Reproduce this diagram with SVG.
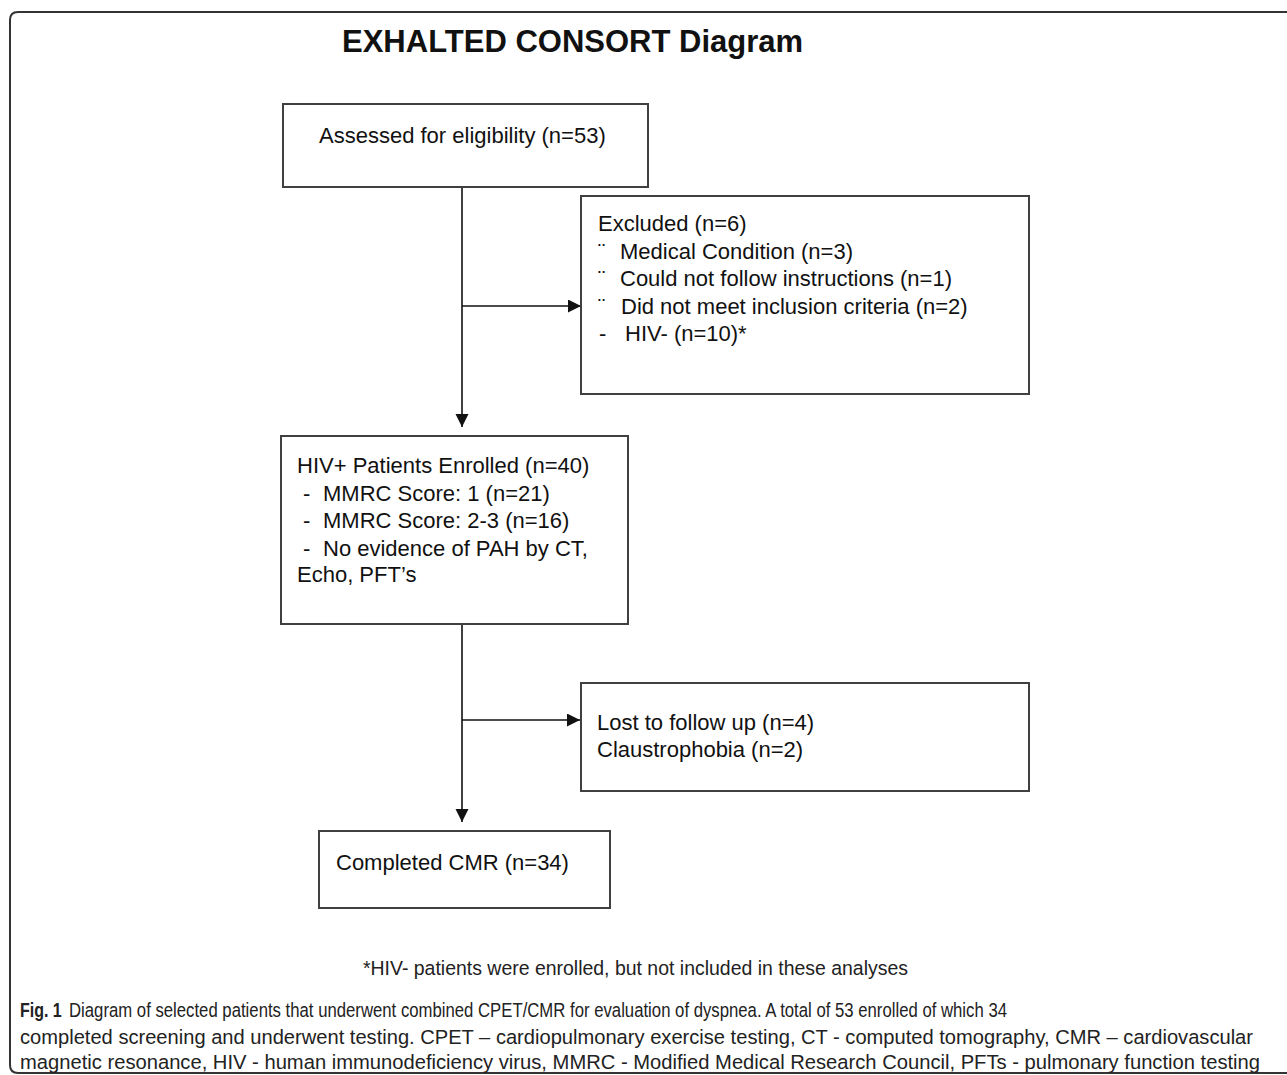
<svg xmlns="http://www.w3.org/2000/svg" width="1287" height="1075" viewBox="0 0 1287 1075">
<style>
.box{fill:#fff;stroke:#404040;stroke-width:2}
.t{font-family:"Liberation Sans",Arial,sans-serif;font-size:22px;fill:#111}
.title{font-family:"Liberation Sans",Arial,sans-serif;font-size:31px;font-weight:bold;fill:#111}
.cap{font-family:"Liberation Sans",Arial,sans-serif;font-size:20.5px;fill:#222}
.conn{stroke:#111;stroke-width:1.6;fill:none}
</style>
<defs>
<marker id="ah" markerWidth="14" markerHeight="14" refX="13" refY="6.5" orient="auto" markerUnits="userSpaceOnUse">
<path d="M0,0 L13,6.5 L0,13 Z" fill="#111"/>
</marker>
</defs>
<rect x="0" y="0" width="1287" height="1075" fill="#fff"/>
<path d="M1287,12 H18 Q10,12 10,20 V1065 Q10,1073 18,1073 H1287" fill="none" stroke="#333" stroke-width="2"/>
<text class="title" x="342" y="52">EXHALTED CONSORT Diagram</text>

<g id="connectors">
<line class="conn" x1="462" y1="187" x2="462" y2="427" marker-end="url(#ah)"/>
<line class="conn" x1="462" y1="306" x2="581" y2="306" marker-end="url(#ah)"/>
<line class="conn" x1="462" y1="625" x2="462" y2="822" marker-end="url(#ah)"/>
<line class="conn" x1="462" y1="720" x2="580" y2="720" marker-end="url(#ah)"/>
</g>

<g id="assessed">
<rect class="box" x="283" y="104" width="365" height="83"/>
<text class="t" x="319" y="143">Assessed for eligibility (n=53)</text>
</g>

<g id="excluded">
<rect class="box" x="581" y="196" width="448" height="198"/>
<text class="t" x="598" y="231">Excluded (n=6)</text>
<text class="t" x="598" y="259">¨</text><text class="t" x="620" y="259">Medical Condition (n=3)</text>
<text class="t" x="598" y="286">¨</text><text class="t" x="620" y="286">Could not follow instructions (n=1)</text>
<text class="t" x="598" y="314">¨</text><text class="t" x="621" y="314">Did not meet inclusion criteria (n=2)</text>
<text class="t" x="599" y="341">-</text><text class="t" x="625" y="341">HIV- (n=10)*</text>
</g>

<g id="enrolled">
<rect class="box" x="281" y="436" width="347" height="188"/>
<text class="t" x="297" y="473">HIV+ Patients Enrolled (n=40)</text>
<text class="t" x="303" y="501">-</text><text class="t" x="323" y="501">MMRC Score: 1 (n=21)</text>
<text class="t" x="303" y="528">-</text><text class="t" x="323" y="528">MMRC Score: 2-3 (n=16)</text>
<text class="t" x="303" y="556">-</text><text class="t" x="323" y="556">No evidence of PAH by CT,</text>
<text class="t" x="297" y="582">Echo, PFT’s</text>
</g>

<g id="lost">
<rect class="box" x="581" y="683" width="448" height="108"/>
<text class="t" x="597" y="730">Lost to follow up (n=4)</text>
<text class="t" x="597" y="757">Claustrophobia (n=2)</text>
</g>

<g id="completed">
<rect class="box" x="319" y="831" width="291" height="77"/>
<text class="t" x="336" y="870">Completed CMR (n=34)</text>
</g>

<text class="cap" x="363" y="975" textLength="545" lengthAdjust="spacingAndGlyphs">*HIV- patients were enrolled, but not included in these analyses</text>
<text class="cap" transform="translate(20,1017) scale(0.78,1)" font-weight="bold">Fig. 1</text>
<text class="cap" x="69" y="1017" textLength="938" lengthAdjust="spacingAndGlyphs">Diagram of selected patients that underwent combined CPET/CMR for evaluation of dyspnea. A total of 53 enrolled of which 34</text>
<text class="cap" x="20" y="1044" textLength="1233" lengthAdjust="spacingAndGlyphs">completed screening and underwent testing. CPET – cardiopulmonary exercise testing, CT - computed tomography, CMR – cardiovascular</text>
<text class="cap" x="20" y="1069" textLength="1240" lengthAdjust="spacingAndGlyphs">magnetic resonance, HIV - human immunodeficiency virus, MMRC - Modified Medical Research Council, PFTs - pulmonary function testing</text>
</svg>
